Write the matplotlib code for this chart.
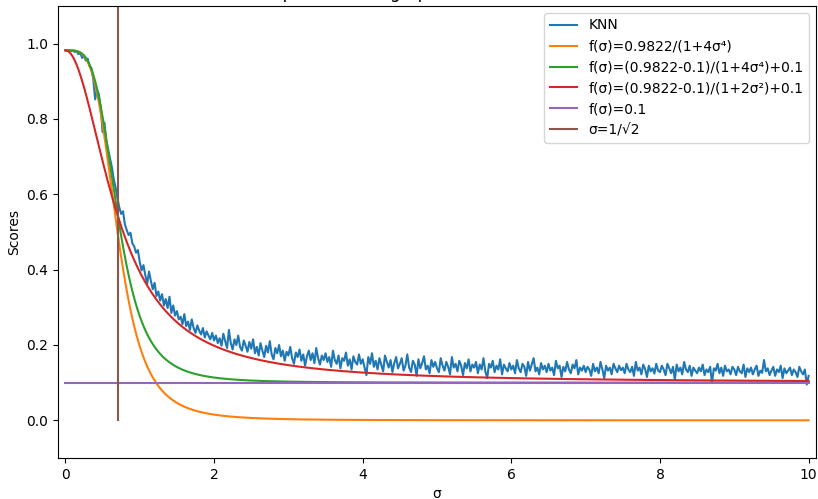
import numpy as np
import matplotlib
matplotlib.use('Agg')
import matplotlib.pyplot as plt

# sigma grid of the KNN measurement (step 0.025)
sigma = np.round(np.arange(0, 10.0001, 0.025), 3)

# KNN scores
knn = [
    0.982, 0.981, 0.983, 0.980, 0.982, 0.978, 0.980, 0.972, 0.976, 0.962,
    0.968, 0.955, 0.960, 0.940, 0.935, 0.905, 0.852, 0.878, 0.865, 0.830,
    0.765, 0.790, 0.742, 0.718, 0.695, 0.672, 0.640, 0.618, 0.590, 0.565,
    0.548, 0.555, 0.520, 0.505, 0.492, 0.498, 0.470, 0.462, 0.445, 0.452,
    0.420, 0.398, 0.412, 0.385, 0.362, 0.395, 0.370, 0.348, 0.365, 0.330,
    0.342, 0.318, 0.335, 0.305, 0.322, 0.298, 0.328, 0.285, 0.305, 0.278,
    0.290, 0.268, 0.275, 0.255, 0.282, 0.250, 0.262, 0.240, 0.268, 0.245,
    0.232, 0.252, 0.238, 0.228, 0.245, 0.220, 0.236, 0.225, 0.215, 0.232,
    0.212, 0.225, 0.205, 0.218, 0.198, 0.230, 0.210, 0.192, 0.240, 0.205,
    0.188, 0.215, 0.200, 0.225, 0.195, 0.185, 0.212, 0.198, 0.182, 0.208,
    0.190, 0.215, 0.178, 0.195, 0.172, 0.205, 0.185, 0.168, 0.198, 0.180,
    0.210, 0.175, 0.162, 0.192, 0.178, 0.200, 0.170, 0.185, 0.158, 0.182,
    0.172, 0.195, 0.165, 0.150, 0.180, 0.168, 0.188, 0.158, 0.175, 0.145,
    0.170, 0.185, 0.160, 0.178, 0.152, 0.192, 0.165, 0.148, 0.172, 0.160,
    0.178, 0.155, 0.168, 0.142, 0.185, 0.160, 0.150, 0.172, 0.138, 0.165,
    0.158, 0.180, 0.145, 0.162, 0.135, 0.170, 0.155, 0.148, 0.175, 0.150,
    0.162, 0.140, 0.120, 0.168, 0.150, 0.178, 0.142, 0.158, 0.135, 0.165,
    0.148, 0.130, 0.172, 0.155, 0.140, 0.160, 0.128, 0.152, 0.168, 0.138,
    0.150, 0.165, 0.132, 0.145, 0.175, 0.140, 0.128, 0.158, 0.148, 0.118,
    0.162, 0.138, 0.152, 0.170, 0.135, 0.145, 0.125, 0.160, 0.142, 0.155,
    0.138, 0.128, 0.165, 0.145, 0.132, 0.155, 0.142, 0.122, 0.168, 0.140,
    0.150, 0.130, 0.158, 0.145, 0.120, 0.152, 0.138, 0.162, 0.130, 0.148,
    0.140, 0.155, 0.125, 0.148, 0.135, 0.165, 0.130, 0.112, 0.150, 0.140,
    0.158, 0.128, 0.145, 0.135, 0.162, 0.122, 0.148, 0.138, 0.130, 0.152,
    0.135, 0.145, 0.125, 0.160, 0.138, 0.128, 0.150, 0.142, 0.118, 0.155,
    0.132, 0.148, 0.165, 0.130, 0.140, 0.122, 0.152, 0.135, 0.145, 0.128,
    0.150, 0.132, 0.140, 0.120, 0.158, 0.138, 0.145, 0.115, 0.142, 0.130,
    0.155, 0.135, 0.125, 0.148, 0.138, 0.160, 0.122, 0.140, 0.132, 0.145,
    0.128, 0.142, 0.135, 0.118, 0.150, 0.130, 0.140, 0.125, 0.155, 0.135,
    0.112, 0.145, 0.132, 0.140, 0.122, 0.150, 0.138, 0.128, 0.145, 0.133,
    0.140, 0.125, 0.150, 0.135, 0.128, 0.142, 0.118, 0.155, 0.132, 0.140,
    0.122, 0.148, 0.136, 0.115, 0.145, 0.130, 0.138, 0.124, 0.150, 0.132,
    0.128, 0.145, 0.135, 0.120, 0.150, 0.138, 0.125, 0.142, 0.108, 0.148,
    0.130, 0.140, 0.122, 0.155, 0.135, 0.128, 0.145, 0.118, 0.140, 0.132,
    0.125, 0.140, 0.130, 0.148, 0.120, 0.135, 0.128, 0.142, 0.100, 0.138,
    0.132, 0.150, 0.125, 0.140, 0.118, 0.145, 0.130, 0.135, 0.122, 0.142,
    0.135, 0.120, 0.142, 0.130, 0.125, 0.148, 0.115, 0.138, 0.128, 0.140,
    0.122, 0.135, 0.145, 0.118, 0.132, 0.126, 0.160, 0.130, 0.138, 0.120,
    0.132, 0.142, 0.118, 0.135, 0.128, 0.145, 0.112, 0.138, 0.125, 0.132,
    0.140, 0.120, 0.135, 0.128, 0.115, 0.142, 0.130, 0.122, 0.135, 0.095,
    0.118,
]

# constants from the legend
peak = 0.9822
floor = 0.1
sigma_mark = 1 / np.sqrt(2)

s = np.linspace(0, 10, 1001)

fig = plt.figure(figsize=(8.18, 4.99), dpi=100)
ax = fig.add_axes([0.0709, 0.0822, 0.9267, 0.9058])

ax.plot(sigma, knn, label='KNN')
ax.plot(s, peak / (1 + 4 * s**4), label='f(σ)=0.9822/(1+4σ⁴)')
ax.plot(s, (peak - floor) / (1 + 4 * s**4) + floor, label='f(σ)=(0.9822-0.1)/(1+4σ⁴)+0.1')
ax.plot(s, (peak - floor) / (1 + 2 * s**2) + floor, label='f(σ)=(0.9822-0.1)/(1+2σ²)+0.1')
ax.plot(s, np.full_like(s, floor), label='f(σ)=0.1')
ax.plot([sigma_mark, sigma_mark], [0, 1.1], label='σ=1/√2')

ax.set_xlim(-0.1, 10.1)
ax.set_ylim(-0.1, 1.1)
ax.set_xlabel('σ')
ax.set_ylabel('Scores')
ax.set_title('KNN compared to the graph model for all noise levels σ')
ax.legend(loc='upper right')

fig.savefig('out.png', dpi=100)
